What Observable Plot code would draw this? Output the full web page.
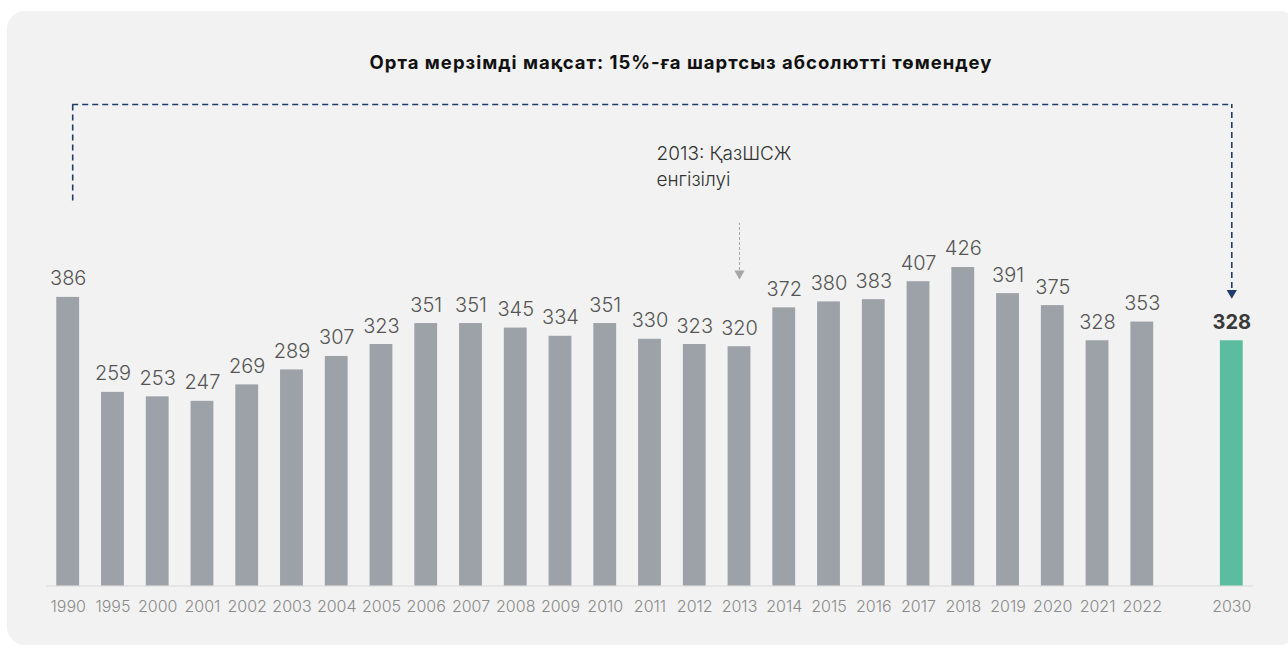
<!DOCTYPE html>
<html>
<head>
<meta charset="utf-8">
<script src="https://cdn.jsdelivr.net/npm/d3@7"></script>
<script src="https://cdn.jsdelivr.net/npm/@observablehq/plot@0.6"></script>
<style>
  html, body { margin: 0; padding: 0; background: #ffffff; overflow: hidden; }
  #wrap { position: relative; width: 1288px; height: 655px; overflow: hidden; font-family: Inter, "Open Sans", sans-serif; }
  #panel { position: absolute; left: 7px; top: 11px; width: 1290px; height: 634px; background: #f2f2f2; border-radius: 18px; }
  #title { position: absolute; left: 181px; width: 1000px; top: 51px; text-align: center; font-size: 18.5px; letter-spacing: 1px; font-weight: 650; color: #111; }
  #chart { position: absolute; left: 0; top: 0; }
</style>
</head>
<body>
<div id="wrap">
  <div id="panel"></div>
  <div id="title">Орта мерзімді мақсат: 15%-ға шартсыз абсолютті төмендеу</div>
  <div id="chart"></div>
</div>
<script>
// Data
const years = ["1990","1995","2000","2001","2002","2003","2004","2005","2006","2007","2008","2009","2010","2011","2012","2013","2014","2015","2016","2017","2018","2019","2020","2021","2022","2030"];
const values = [386,259,253,247,269,289,307,323,351,351,345,334,351,330,323,320,372,380,383,407,426,391,375,328,353,328];
const targetYear = "2030";
const firstYear = "1990";
const gapKey = " ";
const annotationText = ["2013: ҚазШСЖ\nенгізілуі"];
const annotationYear = ["2013"];
// Annotation anchors (value units)
const bracketTop = [644];
const bracketLeftBottom = [515];
const bracketRightBottom = [398];
const bracketArrowAt = [392];
const noteArrowTop = [485];
const noteArrowBottom = [422];
const noteArrowAt = [418];
const noteTextAt = [593];

const table = years.map((y, i) => ({year: y, value: values[i]}));
const hist = table.filter(d => d.year !== targetYear);
const target = table.filter(d => d.year === targetYear);
const domain = [...years.slice(0, -1), gapKey, targetYear];

const navy = "#1e3d6b";
const gray = "#9da1a8";
const teal = "#5bbc9f";
const font = "Inter, 'Open Sans', sans-serif";

const chart = Plot.plot({
  width: 1288,
  height: 655,
  marginLeft: 46,
  marginRight: 35,
  marginTop: 104,
  marginBottom: 69.5,
  style: {background: "transparent", fontFamily: font, overflow: "visible"},
  x: {type: "band", domain, paddingInner: 0.49, paddingOuter: 0.23, round: false, axis: null},
  y: {domain: [0, 644], axis: null},
  marks: [
    Plot.ruleY([0], {stroke: "#d7d7d7", strokeWidth: 1.2}),
    Plot.barY(hist, {x: "year", y: "value", fill: gray}),
    Plot.barY(target, {x: "year", y: "value", fill: teal}),
    Plot.text(hist, {x: "year", y: "value", text: d => String(d.value), lineAnchor: "bottom", dy: -12, fontSize: 20, fontWeight: 300, fill: "#555", style: "letter-spacing:0.6px"}),
    Plot.text(target, {x: "year", y: "value", text: d => String(d.value), lineAnchor: "bottom", dy: -12, fontSize: 20, fontWeight: 700, fill: "#3a3a3a", style: "letter-spacing:0.6px"}),
    Plot.axisX(years, {label: null, tickSize: 0, tickPadding: 15, fontSize: 16, fontWeight: 300, fill: "#8a8a8a", fontFamily: font}),
    // bracket
    Plot.ruleX([firstYear], {y1: () => bracketLeftBottom[0], y2: () => bracketTop[0], dx: 4.5, stroke: navy, strokeWidth: 1.6, strokeDasharray: "6,4"}),
    Plot.ruleY(bracketTop, {x1: () => firstYear, x2: () => targetYear, insetLeft: 15.9, insetRight: 11.4, stroke: navy, strokeWidth: 1.6, strokeDasharray: "6,4"}),
    Plot.ruleX([targetYear], {y1: () => bracketRightBottom[0], y2: () => bracketTop[0], stroke: navy, strokeWidth: 1.6, strokeDasharray: "6,4"}),
    Plot.dot([targetYear], {x: d => d, y: () => bracketArrowAt[0], symbol: "triangle", r: 3.8, rotate: 180, fill: navy, stroke: null}),
    // 2013 note
    Plot.ruleX(annotationYear, {y1: () => noteArrowBottom[0], y2: () => noteArrowTop[0], stroke: "#a6a6a6", strokeWidth: 1, strokeDasharray: "3,2"}),
    Plot.dot(annotationYear, {x: d => d, y: () => noteArrowAt[0], symbol: "triangle", r: 3.8, rotate: 180, fill: "#a6a6a6", stroke: null}),
    Plot.text(annotationText, {x: () => annotationYear[0], y: () => noteTextAt[0], text: d => d, textAnchor: "start", lineAnchor: "top", dx: -83, fontSize: 19, fontWeight: 300, fill: "#333", lineHeight: 1.32, style: "letter-spacing:0.3px"})
  ]
});
document.getElementById("chart").appendChild(chart);
</script>
</body>
</html>
